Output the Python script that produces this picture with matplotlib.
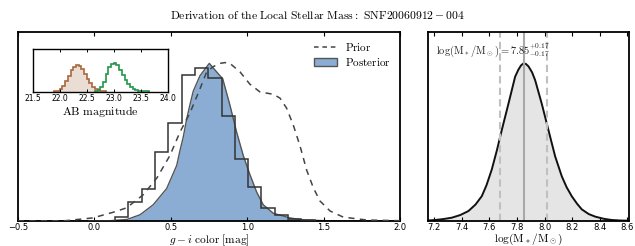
import matplotlib
matplotlib.use("Agg")
import matplotlib.pyplot as plt
from matplotlib.lines import Line2D
from matplotlib.patches import Patch

plt.rcParams['mathtext.fontset'] = 'cm'
plt.rcParams['xtick.direction'] = 'in'
plt.rcParams['ytick.direction'] = 'in'

# posterior samples histogram (g-i colour)
hist_edges = [-0.04, 0.048, 0.135, 0.222, 0.31, 0.397, 0.484, 0.571, 0.658, 0.745,
              0.832, 0.919, 1.006, 1.093, 1.18, 1.267, 1.354, 1.441]
hist_vals = [0.003, 0.006, 0.05, 0.25, 0.42, 0.89, 1.27, 1.89, 1.98, 1.85,
             1.36, 0.80, 0.44, 0.17, 0.08, 0.026, 0.013]

# posterior KDE
post_x = [-0.5, 0.0, 0.102, 0.213, 0.298, 0.385, 0.473, 0.539, 0.56, 0.582, 0.604,
          0.626, 0.647, 0.691, 0.752, 0.80, 0.84, 0.887, 0.931, 0.974, 1.018,
          1.062, 1.105, 1.171, 1.28, 1.365, 1.54, 2.0]
post_y = [0.0, 0.001, 0.004, 0.02, 0.08, 0.21, 0.42, 0.72, 0.91, 1.09, 1.32,
          1.51, 1.68, 1.88, 2.04, 1.93, 1.84, 1.50, 1.15, 0.85, 0.60,
          0.375, 0.21, 0.10, 0.04, 0.013, 0.003, 0.0]

# prior
prior_x = [-0.5, -0.19, -0.01, 0.135, 0.21, 0.32, 0.41, 0.495, 0.56, 0.626, 0.691,
           0.735, 0.78, 0.822, 0.855, 0.887, 0.953, 1.018, 1.084, 1.171, 1.215,
           1.258, 1.302, 1.346, 1.389, 1.433, 1.476, 1.542, 1.629, 1.782, 2.0]
prior_y = [0.0, 0.004, 0.04, 0.12, 0.17, 0.34, 0.56, 0.85, 1.15, 1.40, 1.71,
           1.93, 2.0, 2.04, 2.05, 2.04, 1.93, 1.77, 1.67, 1.64, 1.59,
           1.46, 1.24, 0.97, 0.66, 0.43, 0.26, 0.13, 0.05, 0.013, 0.004]

# inset: AB magnitudes
mag_g_edges = [21.90, 21.95, 22.00, 22.05, 22.10, 22.15, 22.20, 22.25, 22.30, 22.35,
               22.40, 22.45, 22.50, 22.55, 22.60, 22.65, 22.70, 22.75, 22.80, 22.85]
mag_g_vals = [1, 3, 8, 18, 32, 48, 64, 75, 80, 78, 68, 54, 38, 25, 15, 8, 4, 2, 1]
mag_i_edges = [22.65, 22.70, 22.75, 22.80, 22.85, 22.90, 22.95, 23.00, 23.05, 23.10,
               23.15, 23.20, 23.25, 23.30, 23.35, 23.40, 23.45, 23.50, 23.55, 23.60, 23.65]
mag_i_vals = [2, 6, 14, 28, 52, 74, 82, 85, 80, 66, 50, 36, 22, 13, 8, 5, 3, 2, 1, 1]

# stellar mass posterior
mass_x = [7.154, 7.207, 7.27, 7.328, 7.39, 7.449, 7.50, 7.546, 7.58, 7.618, 7.655,
          7.691, 7.739, 7.787, 7.81, 7.83, 7.847, 7.865, 7.884, 7.91, 7.932, 7.98,
          8.028, 8.077, 8.125, 8.16, 8.197, 8.235, 8.27, 8.32, 8.367, 8.43, 8.488,
          8.55, 8.612]
mass_y = [0.5, 1, 2, 3.3, 6, 10, 16.5, 25, 36, 51.7, 71,
          91.7, 118, 145, 152, 156.5, 158.4, 158, 155.5, 149.5, 141.7, 118,
          91.7, 65, 45, 34, 25, 17.5, 11.7, 7, 4.4, 2.2, 1,
          0.5, 0.3]
mass_med = 7.85
mass_err = 0.17

fig = plt.figure(figsize=(6.35, 2.46), dpi=100)
fig.text(0.5, 0.935, r'$\mathrm{Derivation\ of\ the\ Local\ Stellar\ Mass:\ SNF20060912-004}$',
         ha='center', va='center', fontsize=8.4)

# main panel
ax = fig.add_axes([0.0283, 0.1016, 0.6016, 0.768])
ax.fill_between(post_x, post_y, color='#8badd3', lw=0, zorder=1)
ax.plot(post_x, post_y, color='#555555', lw=1.0, zorder=2)
ax.stairs(hist_vals, hist_edges, color='#333333', lw=1.1, zorder=3)
ax.plot(prior_x, prior_y, color='#444444', lw=1.1, ls=(0, (4, 3.5)), zorder=4)
ax.set_xlim(-0.5, 2.0)
ax.set_ylim(0, 2.445)
ax.set_xticks([-0.5, 0.0, 0.5, 1.0, 1.5, 2.0])
ax.set_yticks([])
ax.tick_params(axis='x', labelsize=6, top=True, length=3, width=0.8, pad=1.5)
ax.set_xlabel(r'$g-i\ \mathrm{color\ [mag]}$', fontsize=8.2, labelpad=0)
for s in ax.spines.values():
    s.set_linewidth(1.3)
handles = [Line2D([], [], color='#444444', lw=1.1, ls=(0, (3, 2.5))),
           Patch(facecolor='#8badd3', edgecolor='#555555', lw=1.0)]
ax.legend(handles, [r'$\mathrm{Prior}$', r'$\mathrm{Posterior}$'], loc='upper right',
          frameon=False, fontsize=8, handlelength=2.0, borderaxespad=0.4, labelspacing=0.25)

# inset
axi = fig.add_axes([0.0515, 0.627, 0.2126, 0.174])
axi.stairs(mag_g_vals, mag_g_edges, fill=True, color='#e9ddd4', lw=0)
axi.stairs(mag_g_vals, mag_g_edges, color='#a9673f', lw=1.2)
axi.stairs(mag_i_vals, mag_i_edges, color='#23964a', lw=1.2)
axi.set_xlim(21.5, 24.0)
axi.set_ylim(0, 128)
axi.set_xticks([21.5, 22.0, 22.5, 23.0, 23.5, 24.0])
axi.set_yticks([])
axi.tick_params(axis='x', labelsize=5.5, top=True, length=2, width=0.7, pad=1.5)
axi.set_xlabel(r'$\mathrm{AB\ magnitude}$', fontsize=8.5, labelpad=1)
for s in axi.spines.values():
    s.set_linewidth(1.0)

# mass panel
axm = fig.add_axes([0.6735, 0.1016, 0.3171, 0.768])
axm.fill_between(mass_x, mass_y, color='#e5e5e5', lw=0)
axm.plot(mass_x, mass_y, color='#111111', lw=1.4)
axm.axvline(mass_med, color='#a8a8a8', lw=1.5)
axm.axvline(mass_med - mass_err, color='#c0c0c0', lw=1.5, ls=(0, (3.5, 2)))
axm.axvline(mass_med + mass_err, color='#c0c0c0', lw=1.5, ls=(0, (3.5, 2)))
axm.set_xlim(7.154, 8.612)
axm.set_ylim(0, 190)
axm.set_xticks([7.2, 7.4, 7.6, 7.8, 8.0, 8.2, 8.4, 8.6])
axm.set_yticks([])
axm.tick_params(axis='x', labelsize=6, top=True, length=3, width=0.8, pad=1.5)
axm.set_xlabel(r'$\mathrm{log(M_*/M_\odot)}$', fontsize=8.2, labelpad=0)
axm.text(0.04, 0.905, r'$\mathrm{log(M_*/M_\odot)=7.85^{+0.17}_{-0.17}}$',
         transform=axm.transAxes, fontsize=7.5, ha='left', va='center', color='#222222')
for s in axm.spines.values():
    s.set_linewidth(1.3)

fig.savefig('out.png', dpi=100)
